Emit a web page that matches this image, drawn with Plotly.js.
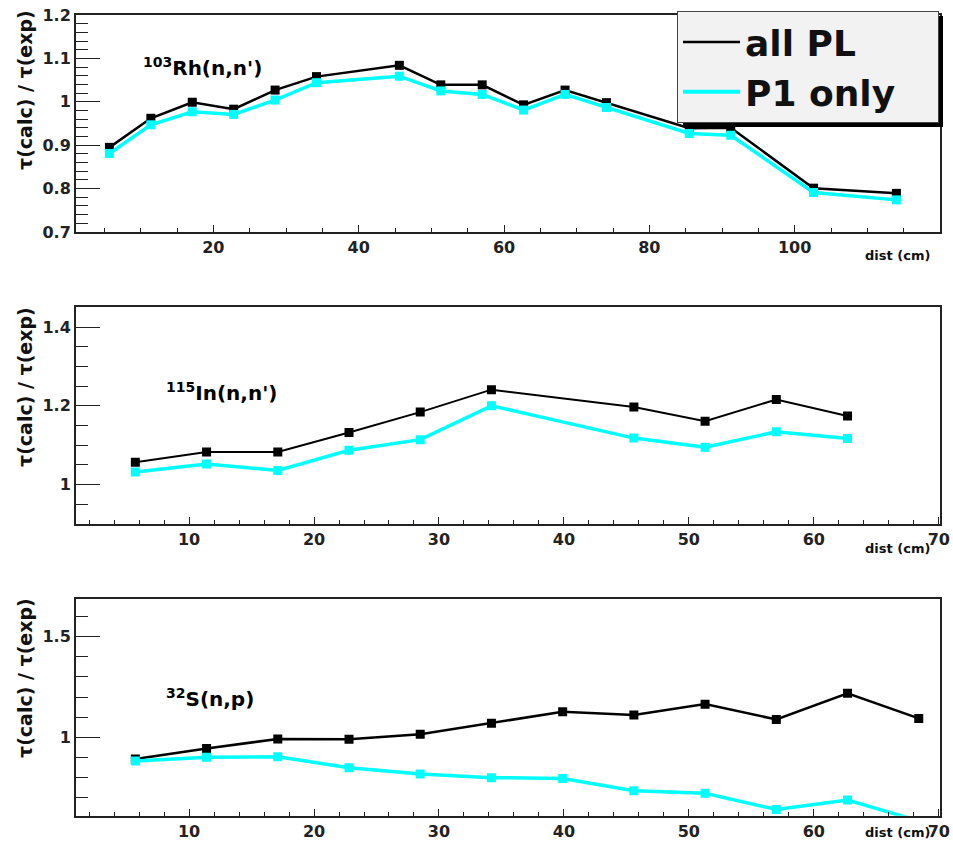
<!DOCTYPE html>
<html>
<head>
<meta charset="utf-8">
<script src="https://cdn.plot.ly/plotly-3.0.1.min.js"></script>
<style>html,body{margin:0;padding:0;background:#fff;}#chart{width:953px;height:842px;}</style>
</head>
<body>
<div id="chart"></div>
<script>
// ---- data ----
const distRh = [5.7, 11.4, 17.1, 22.8, 28.5, 34.2, 45.6, 51.3, 57, 62.7, 68.4, 74.1, 85.5, 91.2, 102.6, 114];
const rhAllPL = [0.895, 0.962, 0.999, 0.983, 1.027, 1.058, 1.084, 1.039, 1.039, 0.993, 1.027, 0.998, 0.939, 0.940, 0.801, 0.789];
const rhP1 = [0.881, 0.947, 0.977, 0.971, 1.004, 1.044, 1.059, 1.025, 1.017, 0.981, 1.017, 0.987, 0.927, 0.923, 0.791, 0.774];

const distIn = [5.7, 11.4, 17.1, 22.8, 28.5, 34.2, 45.6, 51.3, 57, 62.7];
const inAllPL = [1.057, 1.083, 1.083, 1.132, 1.184, 1.241, 1.197, 1.161, 1.216, 1.174];
const inP1 = [1.032, 1.052, 1.036, 1.087, 1.114, 1.200, 1.118, 1.095, 1.134, 1.117];

const distS = [5.7, 11.4, 17.1, 22.8, 28.5, 34.2, 39.9, 45.6, 51.3, 57, 62.7, 68.4];
const sAllPL = [0.892, 0.945, 0.992, 0.990, 1.016, 1.070, 1.127, 1.111, 1.165, 1.089, 1.219, 1.094];
const sP1 = [0.882, 0.901, 0.904, 0.849, 0.818, 0.800, 0.796, 0.735, 0.722, 0.642, 0.689, 0.585];

const seriesNames = ["all PL", "P1 only"];
const panelLabels = ["<sup>103</sup>Rh(n,n')", "<sup>115</sup>In(n,n')", "<sup>32</sup>S(n,p)"];
const yTitle = "τ(calc) / τ(exp)";
const xTitle = "dist (cm)";

// ---- styling ----
const W = 953, H = 842;
const BLACK = "#000000", CYAN = "#00ffff";
const FONT = "DejaVu Sans, Liberation Sans, Arial, sans-serif";
const px = v => v / W;
const py = v => 1 - v / H;
const NB = "\u00a0";

function trace(x, y, name, color, lw, xa, ya) {
  return {
    type: "scatter", mode: "lines+markers", x: x, y: y, name: name,
    xaxis: xa, yaxis: ya, showlegend: false,
    line: {color: color, width: lw},
    marker: {symbol: "square", size: 9, color: color},
    cliponaxis: true
  };
}

const data = [
  trace(distRh, rhAllPL, seriesNames[0], BLACK, 2.5, "x", "y"),
  trace(distRh, rhP1, seriesNames[1], CYAN, 3.5, "x", "y"),
  trace(distIn, inAllPL, seriesNames[0], BLACK, 2, "x2", "y2"),
  trace(distIn, inP1, seriesNames[1], CYAN, 3.5, "x2", "y2"),
  trace(distS, sAllPL, seriesNames[0], BLACK, 2.5, "x3", "y3"),
  trace(distS, sP1, seriesNames[1], CYAN, 3.5, "x3", "y3"),
  // legend-only entries
  {type: "scatter", mode: "lines", x: [null], y: [null], name: seriesNames[0], line: {color: BLACK, width: 2.5}, xaxis: "x", yaxis: "y", showlegend: true},
  {type: "scatter", mode: "lines", x: [null], y: [null], name: seriesNames[1] + NB + NB + NB, line: {color: CYAN, width: 4}, xaxis: "x", yaxis: "y", showlegend: true}
];

const tickFont = {family: FONT, size: 16, color: "#222", weight: "bold"};

function xaxis(range, dtick, minorDtick, anchor) {
  return {
    domain: [px(76), px(940)], range: range, anchor: anchor,
    showline: true, mirror: true, linecolor: "#222", linewidth: 2,
    ticks: "inside", ticklen: 7, tickwidth: 1, tickcolor: "#222",
    dtick: dtick, tick0: 0,
    minor: {ticks: "inside", ticklen: 4, dtick: minorDtick, tick0: 0, tickcolor: "#222", tickwidth: 1, showgrid: false},
    showgrid: false, zeroline: false, tickfont: tickFont, fixedrange: true
  };
}
function yaxis(domTop, domBot, range, dtick, minorDtick, anchor) {
  return {
    domain: [py(domBot), py(domTop)], range: range, anchor: anchor,
    showline: true, mirror: true, linecolor: "#222", linewidth: 2,
    ticks: "inside", ticklen: 24, tickwidth: 1, tickcolor: "#222",
    dtick: dtick, tick0: 0,
    minor: {ticks: "inside", ticklen: 12, dtick: minorDtick, tick0: 0, tickcolor: "#222", tickwidth: 1, showgrid: false},
    showgrid: false, zeroline: false, tickfont: tickFont, fixedrange: true
  };
}

const annFont = {family: FONT, size: 20, color: "#000", weight: "bold"};
const yTitleFont = {family: FONT, size: 19, color: "#111", weight: "bold"};
const xTitleFont = {family: FONT, size: 13, color: "#111", weight: "bold"};

const labelPos = [[141, 67], [164, 392], [164, 698]];
const yTitlePos = [[25, 90], [25, 387], [25, 678]];
const xTitlePos = [[932, 255], [932, 548], [932, 832]];

const annotations = [];
for (let i = 0; i < 3; i++) {
  annotations.push({xref: "paper", yref: "paper", x: px(labelPos[i][0]), y: py(labelPos[i][1]),
    xanchor: "left", yanchor: "middle", text: panelLabels[i], showarrow: false, font: annFont});
  annotations.push({xref: "paper", yref: "paper", x: px(yTitlePos[i][0]), y: py(yTitlePos[i][1]),
    xanchor: "center", yanchor: "middle", textangle: -90, text: yTitle, showarrow: false, font: yTitleFont});
  annotations.push({xref: "paper", yref: "paper", x: px(xTitlePos[i][0]), y: py(xTitlePos[i][1]),
    xanchor: "right", yanchor: "middle", text: xTitle, showarrow: false, font: xTitleFont});
}

const layout = {
  width: W, height: H,
  margin: {l: 0, r: 0, t: 0, b: 0},
  paper_bgcolor: "#ffffff", plot_bgcolor: "#ffffff",
  showlegend: true,
  legend: {
    x: px(677), y: py(11), xanchor: "left", yanchor: "top",
    bgcolor: "#f2f2f2", bordercolor: "#444", borderwidth: 1,
    font: {family: FONT, size: 36, color: "#111", weight: "bold"},
    itemwidth: 57, tracegroupgap: 0
  },
  xaxis: xaxis([1.1, 120], 20, 5, "y"),
  yaxis: yaxis(15, 232, [0.7, 1.2], 0.1, 0.02, "x"),
  xaxis2: xaxis([0.95, 70.1], 10, 2, "y2"),
  yaxis2: yaxis(307.3, 524, [0.9, 1.45], 0.2, 0.05, "x2"),
  xaxis3: xaxis([0.95, 70.1], 10, 2, "y3"),
  yaxis3: yaxis(599, 815.7, [0.611, 1.687], 0.5, 0.1, "x3"),
  annotations: annotations,
  shapes: [
    {type: "rect", xref: "paper", yref: "paper", x0: px(683), x1: px(943), y0: py(127), y1: py(16),
      fillcolor: "#000", line: {width: 0}, layer: "above"}
  ]
};

Plotly.newPlot("chart", data, layout, {displayModeBar: false, staticPlot: true});
</script>
</body>
</html>
